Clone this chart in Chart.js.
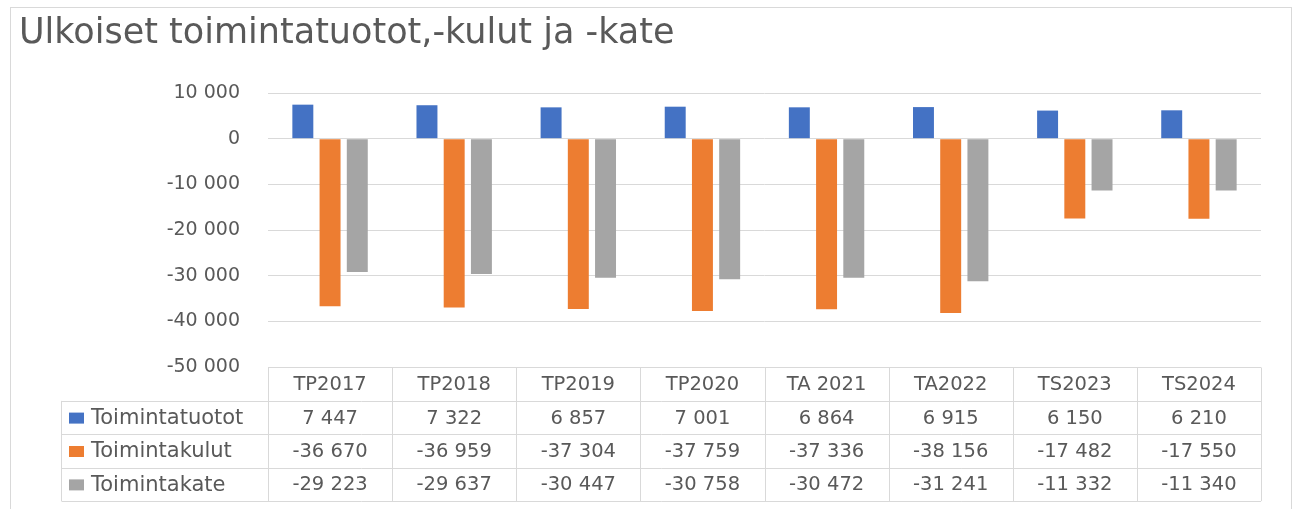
<!DOCTYPE html>
<html>
<head>
<meta charset="utf-8">
<script src="https://cdn.jsdelivr.net/npm/chart.js@4"></script>
<style>
  html, body { margin: 0; padding: 0; background: #fff; }
  #wrap { width: 1294px; height: 509px; }
</style>
</head>
<body>
<div id="wrap"><canvas id="kateChart" width="1294" height="509"></canvas></div>
<script>
const chartTitle = 'Ulkoiset toimintatuotot,-kulut ja -kate'
const categories = ['TP2017', 'TP2018', 'TP2019', 'TP2020', 'TA 2021', 'TA2022', 'TS2023', 'TS2024']
const toimintatuotot = [7447, 7322, 6857, 7001, 6864, 6915, 6150, 6210]
const toimintakulut = [-36670, -36959, -37304, -37759, -37336, -38156, -17482, -17550]
const toimintakate = [-29223, -29637, -30447, -30758, -30472, -31241, -11332, -11340]
const yTicks = [10000, 0, -10000, -20000, -30000, -40000, -50000]

const textColor = '#595959'
const lineColor = '#d9d9d9'
const fontFamily = '"DejaVu Sans", sans-serif'

// finnish style thousands: space separator
function fmt (n) {
  const s = Math.abs(n).toString().replace(/\B(?=(\d{3})+(?!\d))/g, ' ')
  return (n < 0 ? '-' : '') + s
}

// title, outer frame and the data table under the plot
const tablePlugin = {
  id: 'dataTable',
  afterDraw (chart) {
    const { ctx, chartArea, scales } = chart
    const x = scales.x
    const colW = (chartArea.right - chartArea.left) / categories.length
    const top = Math.round(chartArea.bottom) + 0.5
    const headH = 33.4
    const rowH = 33.4
    const legendLeft = 61.5
    const datasets = chart.data.datasets
    const bottom = top + headH + rowH * datasets.length

    ctx.save()
    ctx.strokeStyle = lineColor
    ctx.lineWidth = 1
    ctx.strokeRect(10.5, 7.5, 1281, 520)

    ctx.fillStyle = textColor
    ctx.font = '35px ' + fontFamily
    ctx.textAlign = 'left'
    ctx.textBaseline = 'alphabetic'
    ctx.fillText(chartTitle, 19, 43)

    ctx.beginPath()
    ctx.moveTo(chartArea.left, top)
    ctx.lineTo(chartArea.right, top)
    for (let r = 0; r <= datasets.length; r++) {
      const y = Math.round(top + headH + rowH * r) + 0.5
      ctx.moveTo(legendLeft, y)
      ctx.lineTo(chartArea.right, y)
    }
    for (let i = 0; i <= categories.length; i++) {
      const cx = Math.round(chartArea.left + colW * i) + 0.5
      ctx.moveTo(cx, top)
      ctx.lineTo(cx, bottom)
    }
    ctx.moveTo(legendLeft, top + headH)
    ctx.lineTo(legendLeft, bottom)
    ctx.stroke()

    ctx.font = '19.5px ' + fontFamily
    ctx.textBaseline = 'middle'
    ctx.textAlign = 'center'
    categories.forEach((c, i) => {
      ctx.fillText(c, x.getPixelForValue(i), top + headH / 2 + 1)
    })

    datasets.forEach((ds, r) => {
      const cy = top + headH + rowH * r + rowH / 2 + 1
      ctx.fillStyle = ds.backgroundColor
      ctx.fillRect(69, cy - 6, 15, 11)
      ctx.fillStyle = textColor
      ctx.textAlign = 'left'
      ctx.font = '21px ' + fontFamily
      ctx.fillText(ds.label, 91, cy)
      ctx.textAlign = 'center'
      ctx.font = '19.5px ' + fontFamily
      ds.data.forEach((v, i) => {
        ctx.fillText(fmt(v), x.getPixelForValue(i), cy)
      })
    })
    ctx.restore()
  }
}

const barOpts = { barPercentage: 0.77, categoryPercentage: 0.658, borderWidth: 0 }

new Chart(document.getElementById('kateChart'), {
  type: 'bar',
  data: {
    labels: categories,
    datasets: [
      { label: 'Toimintatuotot', data: toimintatuotot, backgroundColor: '#4472C4', ...barOpts },
      { label: 'Toimintakulut', data: toimintakulut, backgroundColor: '#ED7D31', ...barOpts },
      { label: 'Toimintakate', data: toimintakate, backgroundColor: '#A5A5A5', ...barOpts }
    ]
  },
  options: {
    responsive: false,
    animation: false,
    layout: { padding: { top: 93, right: 33, bottom: 142, left: 0 } },
    plugins: {
      legend: { display: false },
      title: { display: false },
      tooltip: { enabled: false }
    },
    scales: {
      x: { display: false, offset: true },
      y: {
        min: -50000,
        max: 10000,
        afterFit (scale) { scale.width = 268 },
        afterBuildTicks (scale) { scale.ticks = yTicks.map(v => ({ value: v })) },
        border: { display: false },
        grid: { color: lineColor, drawTicks: false },
        ticks: {
          padding: 28,
          color: textColor,
          font: { family: fontFamily, size: 19 },
          callback: v => fmt(v)
        }
      }
    }
  },
  plugins: [tablePlugin]
})
</script>
</body>
</html>
